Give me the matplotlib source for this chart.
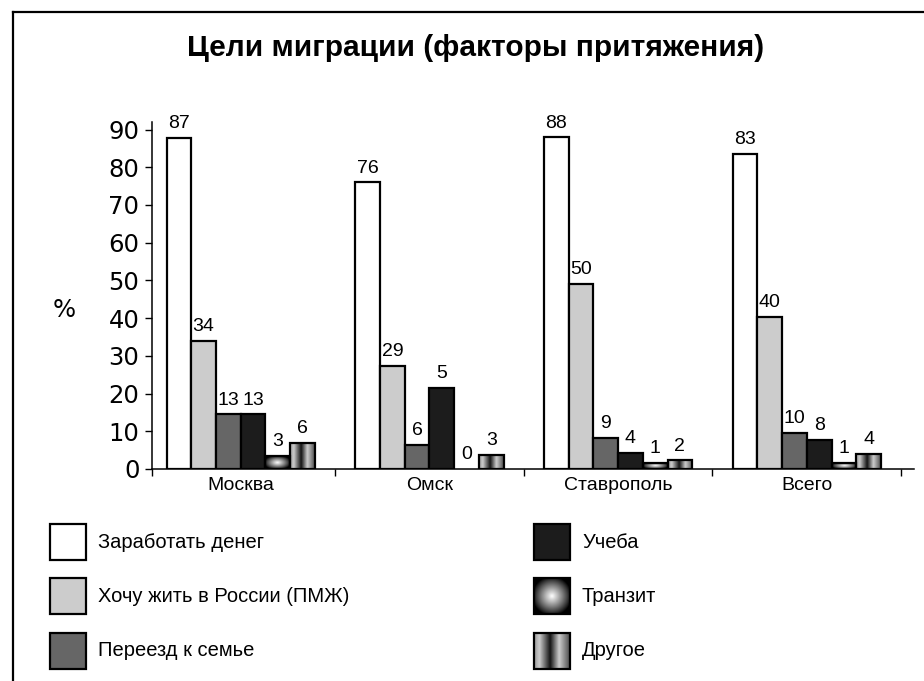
import numpy as np
import matplotlib.pyplot as plt
from matplotlib.patches import Rectangle
from matplotlib.lines import Line2D

# --- data ---
cities = ['Москва', 'Омск', 'Ставрополь', 'Всего']
goals = ['Заработать денег', 'Хочу жить в России (ПМЖ)', 'Переезд к семье',
         'Учеба', 'Транзит', 'Другое']

# bar heights as drawn on the axis
earn = [87.7, 76.0, 87.9, 83.6]
live = [34.0, 27.4, 49.1, 40.4]
family = [14.5, 6.4, 8.3, 9.5]
study = [14.5, 21.6, 4.3, 7.8]
transit = [3.4, 0.0, 1.6, 1.7]
other = [6.9, 3.7, 2.3, 4.0]

# value labels printed above the bars
earn_lbl = ['87', '76', '88', '83']
live_lbl = ['34', '29', '50', '40']
family_lbl = ['13', '6', '9', '10']
study_lbl = ['13', '5', '4', '8']
transit_lbl = ['3', '0', '1', '1']
other_lbl = ['6', '3', '2', '4']

yticks = [0, 10, 20, 30, 40, 50, 60, 70, 80, 90]

NARROW = ['Liberation Sans', 'DejaVu Sans']

W, H = 924, 681
fig = plt.figure(figsize=(W / 100, H / 100), dpi=100)

# overlay in pixel coords: frame + legend
ov = fig.add_axes([0, 0, 1, 1])
ov.axis('off')


def radial(n=80):
    yy, xx = np.mgrid[-1:1:n * 1j, -1:1:n * 1j]
    r = np.sqrt(xx ** 2 + yy ** 2)
    return np.clip(1 - r / 1.1, 0, 1) ** 0.9


def stripes(n=120):
    t = np.linspace(0, 1, n)
    v = np.interp(t, [0, 0.15, 0.45, 0.7, 1], [0.6, 0.8, 0.08, 0.8, 0.3])
    return np.tile(v, (2, 1))


styles = [
    dict(color='white'),
    dict(color='#cccccc'),
    dict(color='#666666'),
    dict(color='#1c1c1c'),
    dict(img=radial()),
    dict(img=stripes()),
]

# --- main axes ---
ax_left, ax_bottom = 152 / W, (H - 469) / H
ax = fig.add_axes([ax_left, ax_bottom, (914 - 152) / W, (469 - 122) / H])

series = [earn, live, family, study, transit, other]
labels = [earn_lbl, live_lbl, family_lbl, study_lbl, transit_lbl, other_lbl]
bw = 0.131
x = np.arange(len(cities))

for i, (vals, lbls, st) in enumerate(zip(series, labels, styles)):
    xc = x + 0.5 + (i - 2.5) * bw
    for xi, v, lb in zip(xc, vals, lbls):
        if 'img' in st:
            if v > 0:
                ax.imshow(st['img'], extent=[xi - bw / 2, xi + bw / 2, 0, v],
                          aspect='auto', cmap='gray', vmin=0, vmax=1,
                          interpolation='bilinear', zorder=2)
                ax.add_patch(Rectangle((xi - bw / 2, 0), bw, v, fill=False,
                                       edgecolor='black', lw=1.6, zorder=3))
        else:
            ax.bar(xi, v, bw, color=st['color'], edgecolor='black',
                   linewidth=1.6, zorder=3)
        ax.annotate(lb, (xi, v), xytext=(0, 7), textcoords='offset points',
                    ha='center', va='baseline', fontsize=14, family=NARROW)

ax.set_xlim(0.03, 4.068)
ax.set_ylim(0, 92)
ax.spines['top'].set_visible(False)
ax.spines['right'].set_visible(False)
ax.spines['left'].set_linewidth(1.1)
ax.spines['bottom'].set_linewidth(1.1)

ax.set_yticks(yticks)
ax.tick_params(axis='y', direction='out', length=5, width=1, pad=4,
               labelsize=17.5)
ax.set_xticks([0.03, 1, 2, 3, 4])
ax.set_xticklabels([])
ax.tick_params(axis='x', which='major', direction='out', length=5, width=1)
ax.set_xticks(x + 0.5, minor=True)
ax.set_xticklabels(cities, minor=True, fontsize=14, family=NARROW)
ax.tick_params(axis='x', which='minor', length=0, pad=6)

fig.text(64 / W, 1 - 310 / H, '%', fontsize=17.5, ha='center', va='center')
fig.text(476 / W, 1 - 48 / H, 'Цели миграции (факторы притяжения)',
         fontsize=21.5, fontweight='bold', family=['Liberation Sans', 'DejaVu Sans'],
         ha='center', va='center')

# --- legend + frame in pixel coords ---
sq = 36
legend_pos = [(50, 524), (50, 578), (50, 633), (534, 524), (534, 578), (534, 633)]
for (lx, ly), name, st in zip(legend_pos, goals, styles):
    if 'img' in st:
        ov.imshow(st['img'], extent=[lx, lx + sq, ly + sq, ly], aspect='auto',
                  cmap='gray', vmin=0, vmax=1, interpolation='bilinear')
        ov.add_patch(Rectangle((lx, ly), sq, sq, fill=False, edgecolor='black', lw=1.6))
    else:
        ov.add_patch(Rectangle((lx, ly), sq, sq, facecolor=st['color'],
                               edgecolor='black', lw=1.6))
    ov.text(lx + 48, ly + sq / 2, name, fontsize=14.5, family=NARROW,
            ha='left', va='center')

ov.add_line(Line2D([13, W], [12, 12], color='black', lw=1.6))
ov.add_line(Line2D([13, 13], [12, H], color='black', lw=1.6))
ov.set_xlim(0, W)
ov.set_ylim(H, 0)

fig.savefig('out.png', dpi=100)
